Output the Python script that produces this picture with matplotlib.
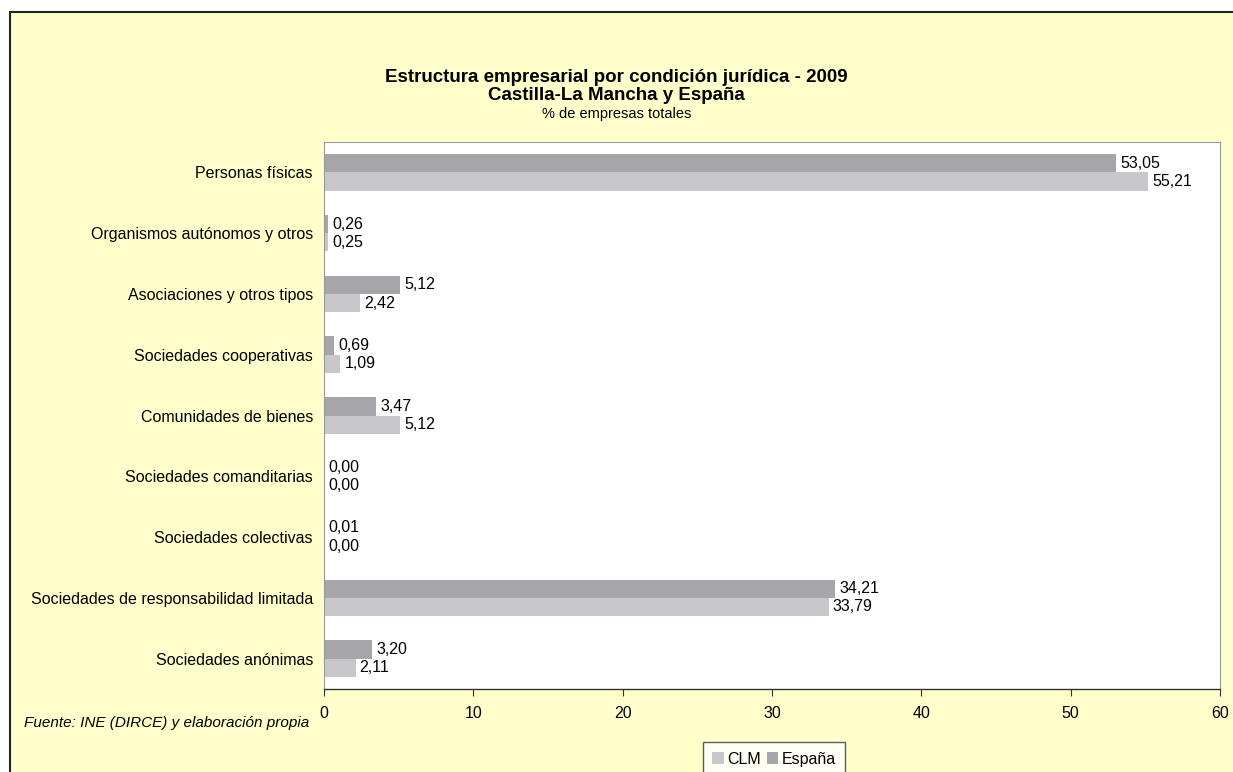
import matplotlib.pyplot as plt
from matplotlib.patches import Rectangle, Patch
import numpy as np

plt.rcParams['font.family'] = ['Liberation Sans', 'DejaVu Sans']

# Datos (de abajo hacia arriba)
categorias = [
    "Sociedades anónimas",
    "Sociedades de responsabilidad limitada",
    "Sociedades colectivas",
    "Sociedades comanditarias",
    "Comunidades de bienes",
    "Sociedades cooperativas",
    "Asociaciones y otros tipos",
    "Organismos autónomos y otros",
    "Personas físicas",
]
clm = [2.11, 33.79, 0.00, 0.00, 5.12, 1.09, 2.42, 0.25, 55.21]
espana = [3.20, 34.21, 0.01, 0.00, 3.47, 0.69, 5.12, 0.26, 53.05]
ticks_x = [0, 10, 20, 30, 40, 50, 60]

color_clm = '#C8C8CC'
color_esp = '#A6A6AA'
fondo = '#FFFFCC'

fig = plt.figure(figsize=(12.33, 7.72), dpi=100)
fig.patch.set_facecolor('white')

# Marco del gráfico
marco = Rectangle((10 / 1233, -0.2), 1.2, 1.2 - 12 / 772, transform=fig.transFigure,
                  facecolor=fondo, edgecolor='#222222', linewidth=1.5, zorder=-10)
fig.patches.append(marco)

ax = fig.add_axes([324 / 1233, 1 - 689 / 772, (1220 - 324) / 1233, (689 - 142) / 772])
ax.set_facecolor('white')

y = np.arange(len(categorias))
h = 0.3
b_esp = ax.barh(y + h / 2, espana, height=h, color=color_esp, label='España')
b_clm = ax.barh(y - h / 2, clm, height=h, color=color_clm, label='CLM')

def etiqueta(v):
    return f"{v:.2f}".replace('.', ',')

for barras, valores in [(b_esp, espana), (b_clm, clm)]:
    for barra, v in zip(barras, valores):
        ax.annotate(etiqueta(v), (v, barra.get_y() + barra.get_height() / 2),
                    xytext=(3, 0), textcoords='offset points',
                    va='center', ha='left', fontsize=11.5)

ax.set_xlim(0, 60)
ax.set_ylim(-0.5, len(categorias) - 0.5)
ax.set_xticks(ticks_x)
ax.set_xticklabels([str(t) for t in ticks_x], fontsize=11.5)
ax.set_yticks(y)
ax.set_yticklabels(categorias, fontsize=11.5)
ax.tick_params(axis='y', length=0, pad=8)
ax.tick_params(axis='x', length=5, direction='out', pad=7, color='#333333')

for s in ['top', 'right', 'left']:
    ax.spines[s].set_color('#999999')
    ax.spines[s].set_linewidth(0.8)
ax.spines['bottom'].set_color('#333333')
ax.spines['bottom'].set_linewidth(1.0)

# Títulos
fig.text(0.5, 1 - 77 / 772, "Estructura empresarial por condición jurídica - 2009",
         ha='center', va='center', fontsize=13.5, fontweight='bold')
fig.text(0.5, 1 - 96 / 772, "Castilla-La Mancha y España",
         ha='center', va='center', fontsize=13.5, fontweight='bold')
fig.text(0.5, 1 - 114 / 772, "% de empresas totales",
         ha='center', va='center', fontsize=10.5)

fig.text(24 / 1233, 1 - 723 / 772, "Fuente: INE (DIRCE) y elaboración propia",
         ha='left', va='center', fontsize=11, style='italic')

# Leyenda
handles = [Patch(facecolor=color_clm, label='CLM'), Patch(facecolor=color_esp, label='España')]
leg = fig.legend(handles=handles, loc='upper center', bbox_to_anchor=(774 / 1233, 1 - 742 / 772),
                 ncol=2, fontsize=11.5, frameon=True, fancybox=False, handlelength=0.7,
                 handleheight=0.7, handletextpad=0.2, columnspacing=0.4, borderpad=0.6,
                 borderaxespad=0)
leg.get_frame().set_edgecolor('#333333')
leg.get_frame().set_linewidth(1.0)
leg.get_frame().set_facecolor('white')

fig.savefig('out.png', dpi=100)
